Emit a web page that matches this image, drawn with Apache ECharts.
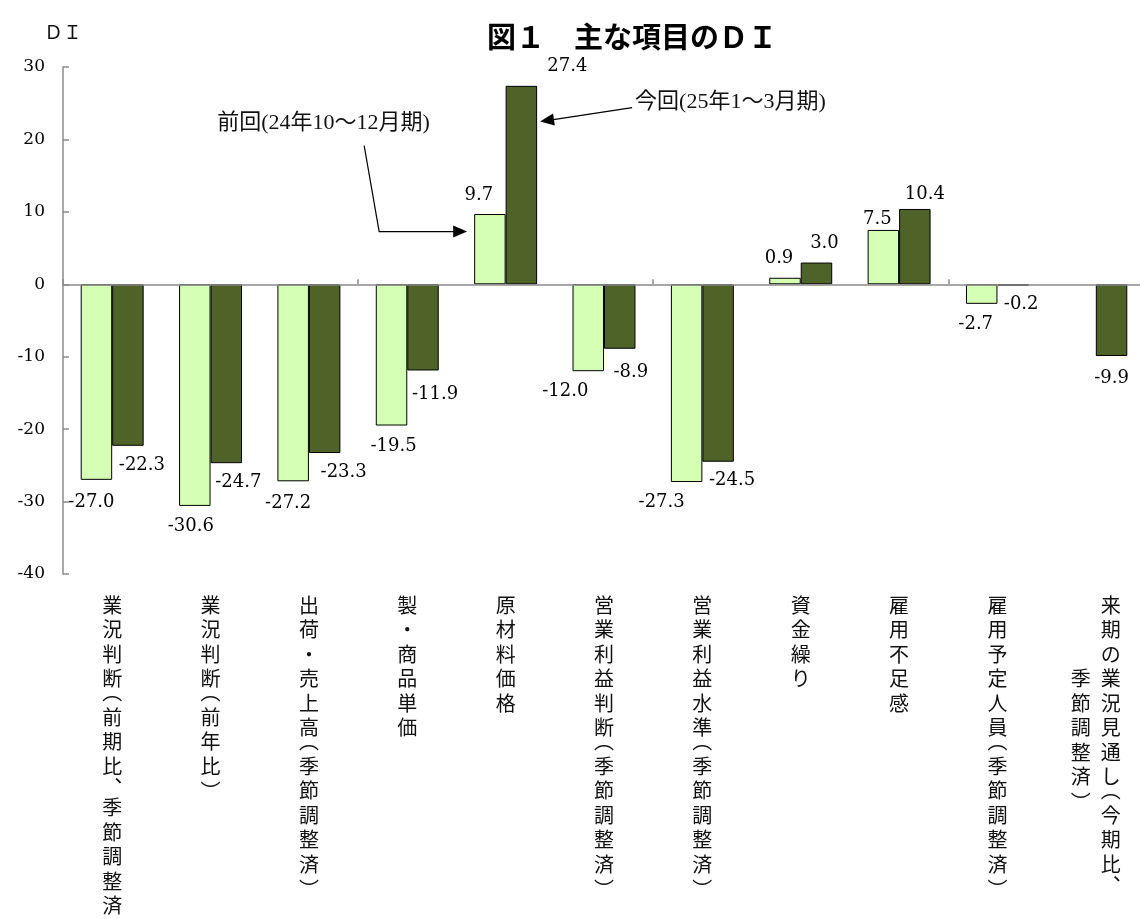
<!DOCTYPE html>
<html>
<head>
<meta charset="utf-8">
<title>図１　主な項目のＤＩ</title>
<script src="https://cdn.jsdelivr.net/npm/echarts@6/dist/echarts.min.js"></script>
<style>
  html, body { margin: 0; padding: 0; background: #fff; }
  #main { width: 1140px; height: 919px; }
</style>
</head>
<body>
<div id="main"></div>
<script>
// ---- data -------------------------------------------------------------
const categories = [
  '業況判断(前期比、季節調整済)',
  '業況判断(前年比)',
  '出荷・売上高(季節調整済)',
  '製・商品単価',
  '原材料価格',
  '営業利益判断(季節調整済)',
  '営業利益水準(季節調整済)',
  '資金繰り',
  '雇用不足感',
  '雇用予定人員(季節調整済)',
  '来期の業況見通し(今期比、\n季節調整済)'
];
const seriesNames = ['前回(24年10～12月期)', '今回(25年1～3月期)'];
const previousDI = [-27.0, -30.6, -27.2, -19.5, 9.7, -12.0, -27.3, 0.9, 7.5, -2.7, null];
const currentDI  = [-22.3, -24.7, -23.3, -11.9, 27.4, -8.9, -24.5, 3.0, 10.4, -0.2, -9.9];
const yMin = -40, yMax = 30, yStep = 10;

// ---- label nudges (px) per bar --------------------------------------------
const prevLabelShift = [[-5,3],[-4,1],[-5,3],[2,2],[-11,0],[-23,1],[-25,1],[-6,0],[-6,8],[-6,1],[0,0]];
const currLabelShift = [[14,1],[12,0],[19,0],[12,5],[46,-1],[11,5],[14,0],[8,0],[10,4],[8,0],[0,3]];

const CJK = '"Noto Sans CJK JP", "Noto Sans", sans-serif';
const NUM = '"DejaVu Serif", serif';
const MIX = '"Liberation Serif", "Noto Sans CJK JP", serif';
const LIGHT = '#d4ffb4';
const DARK = '#4f6228';
const AXIS = '#8a8a8a';
const BAR_FRAC = 0.32;

// Vertical (tategaki) category labels: one glyph per line, brackets and
// commas swapped for their vertical presentation forms. A '\n' in the name
// starts a new column to the left, centred against the first one.
const OPEN = '\uFE35', CLOSE = '\uFE36', COMMA = '\uFE11';
const VERT = { '(': OPEN, ')': CLOSE, '、': COMMA };
function glyphStyle(ch) {
  if (ch === OPEN) return 'po';
  if (ch === CLOSE) return 'pc';
  if (ch === COMMA) return 'cm';
  return 'c';
}
function verticalLabel(text) {
  const cols = text.split('\n').map(s => Array.from(s).map(ch => VERT[ch] || ch));
  const rows = cols[0].length;
  const starts = cols.map((c, i) => i === 0 ? 0 : Math.floor((rows - c.length) / 2));
  const lines = [];
  for (let r = 0; r < rows; r++) {
    const parts = [];
    // columns run right to left, so the last column is written first
    for (let c = cols.length - 1; c >= 0; c--) {
      const ch = cols[c][r - starts[c]];
      parts.push(ch ? '{' + glyphStyle(ch) + '|' + ch + '}' : '{b| }');
    }
    lines.push(parts.join(''));
  }
  return lines.join('\n');
}

const labelGlyph = { fontFamily: CJK, fontSize: 20, width: 30, align: 'center', color: '#111' };

function barData(values, shifts) {
  return values.map((v, i) => v == null ? null : {
    value: v,
    label: { position: v >= 0 ? 'top' : 'bottom', offset: shifts[i] }
  });
}

function barSeries(name, values, shifts, color) {
  return {
    name: name,
    type: 'bar',
    xAxisIndex: 0,
    yAxisIndex: 0,
    barWidth: (BAR_FRAC * 100) + '%',
    barGap: '0%',
    data: barData(values, shifts),
    itemStyle: { color: color, borderColor: '#000', borderWidth: 1 },
    label: {
      show: true,
      distance: 10,
      fontFamily: NUM,
      fontSize: 18,
      color: '#000',
      formatter: p => Number(p.value).toFixed(1)
    },
    emphasis: { disabled: true }
  };
}

const chart = echarts.init(document.getElementById('main'), null, { renderer: 'canvas' });

const option = {
  backgroundColor: '#fff',
  animation: false,
  title: {
    text: '図１　主な項目のＤＩ',
    left: 482,
    top: 17,
    textStyle: { fontFamily: CJK, fontWeight: 'bold', fontSize: 29, color: '#000' }
  },
  grid: { left: 63, right: -5, top: 67, bottom: 345, containLabel: false, outerBoundsMode: 'none' },
  xAxis: [
    {
      // category names along the bottom
      type: 'category',
      data: categories,
      position: 'bottom',
      axisLine: { show: false, onZero: false },
      axisTick: { show: false },
      axisLabel: {
        interval: 0,
        margin: 19,
        color: '#111',
        formatter: verticalLabel,
        rich: {
          c:  Object.assign({ lineHeight: 24.5 }, labelGlyph),
          cm: Object.assign({ lineHeight: 17 }, labelGlyph),
          po: Object.assign({ lineHeight: 14, verticalAlign: 'bottom', padding: [0, 0, 3, 0] }, labelGlyph),
          pc: Object.assign({ lineHeight: 14, verticalAlign: 'top', padding: [3, 0, 0, 0] }, labelGlyph),
          b:  Object.assign({ lineHeight: 1 }, labelGlyph)
        }
      }
    },
    {
      // baseline at zero with ticks between categories
      type: 'category',
      data: categories,
      position: 'bottom',
      axisLine: { show: true, onZero: true, lineStyle: { color: AXIS, width: 1.5 } },
      axisTick: { show: true, inside: true, length: 5, lineStyle: { color: AXIS, width: 1.5 } },
      axisLabel: { show: false },
      z: 3
    }
  ],
  yAxis: {
    type: 'value',
    min: yMin,
    max: yMax,
    interval: yStep,
    name: 'ＤＩ',
    nameLocation: 'end',
    nameGap: 26,
    nameTextStyle: { fontFamily: CJK, fontSize: 19, color: '#111', align: 'center' },
    axisLine: { show: true, lineStyle: { color: AXIS, width: 1.5 } },
    axisTick: { show: true, inside: true, length: 6, lineStyle: { color: AXIS, width: 1.5 } },
    splitLine: { show: false },
    axisLabel: { fontFamily: NUM, fontSize: 17, color: '#000', margin: 18 }
  },
  series: [
    barSeries(seriesNames[0], previousDI, prevLabelShift, LIGHT),
    barSeries(seriesNames[1], currentDI, currLabelShift, DARK)
  ]
};
chart.setOption(option);

// ---- callouts naming the two periods ------------------------------------
const rawIdx = categories.indexOf('原材料価格');
const cx = chart.convertToPixel({ xAxisIndex: 0, yAxisIndex: 0 }, [rawIdx, 0])[0];
const cxNext = chart.convertToPixel({ xAxisIndex: 0, yAxisIndex: 0 }, [rawIdx + 1, 0])[0];
const bw = (cxNext - cx) * BAR_FRAC;
const leftEdge = cx - bw;      // left side of the light bar
const rightEdge = cx + bw;     // right side of the dark bar
const yPrev = chart.convertToPixel({ yAxisIndex: 0 }, previousDI[rawIdx] * 0.75);
const yCurr = chart.convertToPixel({ yAxisIndex: 0 }, currentDI[rawIdx] * 0.82);

function arrowHead(tip, from, len, half) {
  const dx = from[0] - tip[0], dy = from[1] - tip[1];
  const d = Math.hypot(dx, dy);
  const ux = dx / d, uy = dy / d;
  const bx = tip[0] + ux * len, by = tip[1] + uy * len;
  return [tip, [bx - uy * half, by + ux * half], [bx + uy * half, by - ux * half]];
}

const prevTip = [leftEdge - 7, yPrev];
const prevElbow = [leftEdge - 95, yPrev];
const prevStart = [leftEdge - 110, yPrev - 86];
const currTip = [rightEdge + 3, yCurr];
const currEnd = [rightEdge + 95, yCurr - 14];

chart.setOption({
  graphic: [
    {
      type: 'polyline', silent: true,
      shape: { points: [prevStart, prevElbow, [prevTip[0] - 12, prevTip[1]]] },
      style: { stroke: '#000', lineWidth: 1.2, fill: null }
    },
    {
      type: 'polygon', silent: true,
      shape: { points: arrowHead(prevTip, prevElbow, 14, 6) },
      style: { fill: '#000' }
    },
    {
      type: 'text', silent: true,
      x: leftEdge - 257, y: yPrev - 108,
      style: { text: seriesNames[0], fontFamily: MIX, fontSize: 22, fill: '#111', verticalAlign: 'middle', align: 'left' }
    },
    {
      type: 'line', silent: true,
      shape: { x1: currEnd[0], y1: currEnd[1], x2: currTip[0] + 10, y2: currTip[1] - 1.5 },
      style: { stroke: '#000', lineWidth: 1.2 }
    },
    {
      type: 'polygon', silent: true,
      shape: { points: arrowHead(currTip, currEnd, 14, 6) },
      style: { fill: '#000' }
    },
    {
      type: 'text', silent: true,
      x: rightEdge + 98, y: yCurr - 19,
      style: { text: seriesNames[1], fontFamily: MIX, fontSize: 22, fill: '#111', verticalAlign: 'middle', align: 'left' }
    }
  ]
});
</script>
</body>
</html>
